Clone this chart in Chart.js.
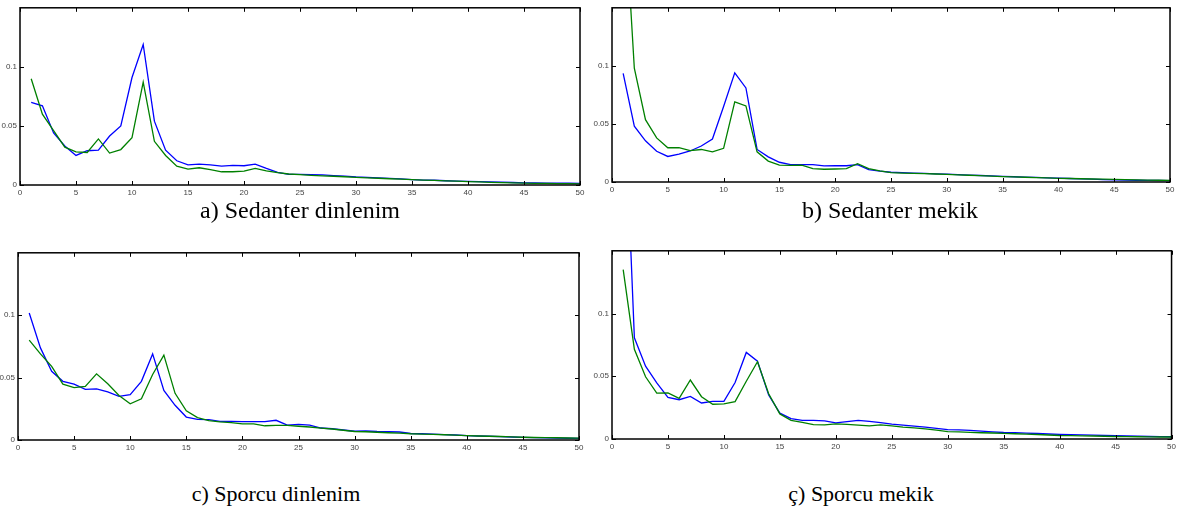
<!DOCTYPE html>
<html>
<head>
<meta charset="utf-8">
<script src="https://cdn.jsdelivr.net/npm/chart.js@4"></script>
<style>
  body { margin: 0; background: #fff; width: 1179px; height: 510px; position: relative; overflow: hidden; }
  .panel { position: absolute; }
  .caption { position: absolute; font-family: "Liberation Serif", "Times New Roman", serif; font-size: 22px; color: #000; white-space: nowrap; transform: translateX(-50%); }
  .caption.top { font-size: 24px; }
</style>
</head>
<body>
<div class="panel" style="left:0px;top:0px"><canvas id="chartA" width="595" height="200"></canvas></div>
<div class="panel" style="left:590px;top:0px"><canvas id="chartB" width="589" height="200"></canvas></div>
<div class="panel" style="left:0px;top:245px"><canvas id="chartC" width="595" height="210"></canvas></div>
<div class="panel" style="left:590px;top:243px"><canvas id="chartD" width="589" height="212"></canvas></div>

<div class="caption top" style="left:300px;top:197px">a) Sedanter dinlenim</div>
<div class="caption top" style="left:890px;top:197px">b) Sedanter mekik</div>
<div class="caption" style="left:276px;top:481px">c) Sporcu dinlenim</div>
<div class="caption" style="left:861px;top:481px">ç) Sporcu mekik</div>

<script>
// harmonic index 1..50
const harmonics = [1,2,3,4,5,6,7,8,9,10,11,12,13,14,15,16,17,18,19,20,21,22,23,24,25,
  26,27,28,29,30,31,32,33,34,35,36,37,38,39,40,41,42,43,44,45,46,47,48,49,50];
const xTicks = [0,5,10,15,20,25,30,35,40,45,50];
const yTicks = [0, 0.05, 0.1];
const yTickLabels = ['0', '0.05', '0.1'];

// a) Sedanter dinlenim
const restSedBlue = [0.070,0.067,0.044,0.033,0.025,0.029,0.0295,0.0415,0.050,0.091,0.119,0.054,0.0295,0.0205,0.017,0.0177,0.017,0.016,0.0166,0.0163,0.0177,0.014,0.0107,0.009,0.009,
  0.0088,0.0085,0.008,0.0075,0.0068,0.0064,0.006,0.0056,0.0052,0.0046,0.0042,0.004,0.0036,0.0033,0.003,0.0028,0.0026,0.0024,0.0021,0.0018,0.0017,0.0016,0.0015,0.0015,0.0014];
const restSedGreen = [0.090,0.060,0.046,0.032,0.028,0.0275,0.039,0.027,0.030,0.040,0.087,0.037,0.025,0.016,0.0135,0.0146,0.013,0.0112,0.0112,0.0118,0.014,0.012,0.0104,0.0093,0.0087,
  0.0082,0.0078,0.0074,0.007,0.0065,0.006,0.0057,0.0053,0.005,0.0045,0.0042,0.0039,0.0035,0.0032,0.0029,0.0026,0.0023,0.002,0.0018,0.0016,0.0014,0.0013,0.0012,0.0011,0.001];

// b) Sedanter mekik
const shuttleSedBlue = [0.0935,0.048,0.0355,0.0265,0.022,0.024,0.0267,0.031,0.037,0.065,0.094,0.081,0.028,0.0216,0.017,0.015,0.015,0.015,0.0138,0.014,0.014,0.015,0.0107,0.0093,0.0084,
  0.008,0.0077,0.0074,0.007,0.0067,0.0063,0.006,0.0056,0.0052,0.0048,0.0045,0.0042,0.0039,0.0036,0.0033,0.003,0.0027,0.0024,0.0021,0.0018,0.0016,0.0015,0.0014,0.0013,0.0012];
const shuttleSedGreen = [0.26,0.098,0.0537,0.038,0.0295,0.0295,0.027,0.028,0.026,0.029,0.069,0.0655,0.026,0.018,0.0146,0.0143,0.0146,0.0115,0.011,0.0112,0.0115,0.0157,0.0115,0.0096,0.008,
  0.0077,0.0075,0.0072,0.0069,0.0066,0.0062,0.0058,0.0055,0.0051,0.0047,0.0044,0.0041,0.0038,0.0035,0.0032,0.003,0.0028,0.0026,0.0024,0.0022,0.002,0.0018,0.0016,0.0015,0.0014];

// c) Sporcu dinlenim
const restAthBlue = [0.1018,0.0738,0.055,0.047,0.0447,0.0405,0.041,0.0385,0.035,0.0364,0.047,0.069,0.0397,0.0278,0.0184,0.0166,0.0164,0.015,0.015,0.0148,0.0148,0.0148,0.0158,0.012,0.0125,
  0.012,0.0096,0.009,0.008,0.007,0.0072,0.0068,0.0066,0.0064,0.0052,0.005,0.0047,0.0043,0.004,0.0035,0.0032,0.003,0.0027,0.0024,0.0021,0.0019,0.0017,0.0015,0.0014,0.0013];
const restAthGreen = [0.080,0.069,0.059,0.0447,0.042,0.043,0.053,0.045,0.0356,0.029,0.033,0.0525,0.068,0.0374,0.0234,0.018,0.0156,0.0145,0.014,0.013,0.013,0.0114,0.0117,0.0117,0.011,
  0.0104,0.0095,0.0088,0.0078,0.0068,0.0066,0.0062,0.0058,0.0055,0.005,0.0047,0.0045,0.0042,0.0039,0.0035,0.0032,0.003,0.0028,0.0025,0.0022,0.002,0.0019,0.0018,0.0016,0.0015];

// ç) Sporcu mekik
const shuttleAthBlue = [0.30,0.0807,0.058,0.0447,0.0332,0.0313,0.034,0.0287,0.030,0.030,0.045,0.069,0.062,0.035,0.0206,0.0162,0.0149,0.0149,0.0144,0.0128,0.0138,0.0149,0.0141,0.013,0.0118,
  0.011,0.0102,0.0094,0.0085,0.0075,0.0072,0.0068,0.0062,0.0057,0.0052,0.005,0.0047,0.0044,0.004,0.0037,0.0035,0.0033,0.0031,0.0028,0.0026,0.0024,0.0022,0.002,0.0019,0.0018];
const shuttleAthGreen = [0.135,0.0715,0.0496,0.0366,0.0368,0.0324,0.047,0.0337,0.0277,0.028,0.0298,0.046,0.0616,0.036,0.020,0.0149,0.0133,0.0115,0.0112,0.012,0.0117,0.011,0.0104,0.0112,0.0104,
  0.0095,0.0088,0.008,0.007,0.0058,0.0056,0.0053,0.005,0.0048,0.0045,0.0042,0.0039,0.0036,0.0032,0.0028,0.0027,0.0025,0.0024,0.0022,0.002,0.0019,0.0018,0.0017,0.0016,0.0016];

const BLUE = '#0000ff';
const GREEN = '#008000';
const tickFont = { family: '"Liberation Sans", Arial, sans-serif', size: 8 };

// box round the plot with inward ticks on all four sides
const boxPlugin = {
  id: 'matlabBox',
  afterDraw(chart) {
    const { ctx, chartArea: a, scales } = chart;
    ctx.save();
    ctx.strokeStyle = '#000';
    ctx.lineWidth = 1;
    ctx.beginPath();
    xTicks.forEach(v => {
      const px = Math.round(scales.x.getPixelForValue(v)) + 0.5;
      ctx.moveTo(px, a.bottom); ctx.lineTo(px, a.bottom - 4);
      ctx.moveTo(px, a.top); ctx.lineTo(px, a.top + 4);
    });
    yTicks.forEach(v => {
      const py = Math.round(scales.y.getPixelForValue(v)) + 0.5;
      ctx.moveTo(a.left, py); ctx.lineTo(a.left + 4, py);
      ctx.moveTo(a.right, py); ctx.lineTo(a.right - 4, py);
    });
    ctx.stroke();
    ctx.lineWidth = 1.5;
    ctx.strokeRect(a.left, a.top, a.right - a.left, a.bottom - a.top);
    ctx.restore();
  }
};

function makeChart(id, blue, green, box) {
  const toPoints = arr => harmonics.map((h, i) => ({ x: h, y: arr[i] }));
  return new Chart(document.getElementById(id), {
    type: 'line',
    data: {
      datasets: [
        { data: toPoints(blue), borderColor: BLUE, borderWidth: 1.3, pointRadius: 0, tension: 0, order: 2 },
        { data: toPoints(green), borderColor: GREEN, borderWidth: 1.3, pointRadius: 0, tension: 0, order: 1 }
      ]
    },
    options: {
      responsive: false,
      animation: false,
      devicePixelRatio: 1,
      layout: { padding: { top: box.top, right: box.right, left: 0, bottom: 0 } },
      plugins: { legend: { display: false }, tooltip: { enabled: false } },
      scales: {
        x: {
          type: 'linear', min: 0, max: 50,
          afterBuildTicks: s => { s.ticks = xTicks.map(v => ({ value: v })); },
          afterFit: s => { s.height = box.xh; },
          grid: { display: false, drawTicks: false },
          border: { display: false },
          ticks: { font: tickFont, color: '#444', padding: 3, maxRotation: 0, autoSkip: false }
        },
        y: {
          type: 'linear', min: 0, max: 0.15,
          afterBuildTicks: s => { s.ticks = yTicks.map(v => ({ value: v })); },
          afterFit: s => { s.width = box.yw; },
          grid: { display: false, drawTicks: false },
          border: { display: false },
          ticks: { font: tickFont, color: '#444', padding: 3,
            callback: (v, i) => yTickLabels[i] }
        }
      }
    },
    plugins: [boxPlugin]
  });
}

makeChart('chartA', restSedBlue, restSedGreen, { top: 5, right: 15, xh: 15, yw: 20 });
makeChart('chartB', shuttleSedBlue, shuttleSedGreen, { top: 4, right: 9, xh: 18, yw: 22 });
makeChart('chartC', restAthBlue, restAthGreen, { top: 5, right: 16, xh: 15, yw: 18 });
makeChart('chartD', shuttleAthBlue, shuttleAthGreen, { top: 5, right: 6, xh: 16, yw: 22 });
</script>
</body>
</html>
